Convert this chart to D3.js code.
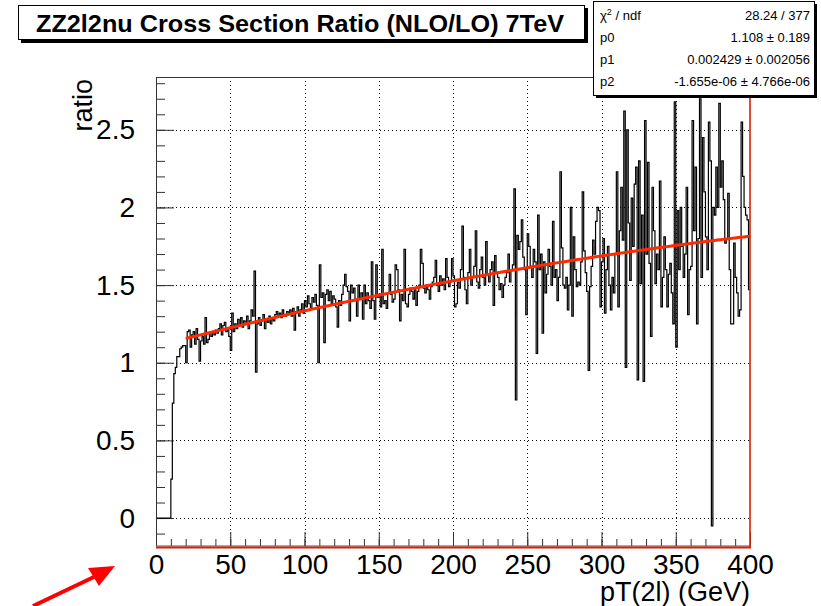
<!DOCTYPE html>
<html>
<head>
<meta charset="utf-8">
<script src="https://cdn.jsdelivr.net/npm/d3@7"></script>
<style>
  body { margin: 0; background: #fff; }
  text { font-family: "Liberation Sans", Arial, Helvetica, sans-serif; }
</style>
</head>
<body>
<svg id="svg" width="821" height="606"></svg>
<script>
// histogram contents, one value per 1 GeV bin, 0..400 GeV
var ratio = [
  0,0,0,0,0,0,0,0,0,0,
  0.25,0.74,0.93,0.97,1.04,1.04,1.09,1.10,1.11,1.11,
  1.00,1.20,1.21,1.10,1.18,1.20,1.12,1.22,1.15,1.01,
  1.14,1.17,1.12,1.29,1.13,1.15,1.19,1.17,1.20,1.18,
  1.21,1.19,1.22,1.25,1.18,1.24,1.26,1.20,1.22,1.17,
  1.08,1.32,1.20,1.25,1.22,1.28,1.24,1.29,1.23,1.27,
  1.25,1.30,1.22,1.27,1.34,1.30,1.59,0.94,1.25,1.29,
  1.24,1.27,1.31,1.22,1.28,1.26,1.30,1.25,1.28,1.27,
  1.31,1.33,1.30,1.32,1.29,1.34,1.31,1.30,1.33,1.32,
  1.34,1.30,1.35,1.21,1.33,1.36,1.30,1.34,1.38,1.32,
  1.40,1.36,1.43,1.38,1.35,1.42,1.39,1.44,1.37,1.00,
  1.63,1.42,1.45,1.13,1.44,1.47,1.40,1.46,1.38,1.43,
  1.41,1.36,1.23,1.40,1.37,1.44,1.50,1.57,1.49,1.46,
  1.27,1.50,1.45,1.48,1.40,1.30,1.50,1.42,1.45,1.28,
  1.50,1.38,1.45,1.40,1.35,1.65,1.40,1.28,1.63,1.42,
  1.44,1.36,1.73,1.38,1.40,1.35,1.45,1.57,1.44,1.39,
  1.41,1.63,1.60,1.47,1.27,1.44,1.40,1.73,1.38,1.36,
  1.44,1.48,1.46,1.41,1.47,1.37,1.46,1.50,1.73,1.64,
  1.48,1.45,1.50,1.47,1.41,1.49,1.52,1.55,1.66,1.50,
  1.46,1.56,1.50,1.54,1.47,1.67,1.55,1.49,1.52,1.67,
  1.56,1.36,1.38,1.52,1.48,1.60,1.88,1.55,1.47,1.38,
  1.58,1.73,1.50,1.55,1.62,1.85,1.52,1.48,1.60,1.68,
  1.55,1.50,1.78,1.57,1.52,1.60,1.65,1.37,1.69,1.58,
  1.55,1.47,1.51,1.42,1.50,1.55,1.58,1.70,1.52,1.60,
  1.63,2.12,0.76,1.82,1.73,1.78,1.92,1.68,1.60,1.31,
  1.83,1.75,1.62,1.55,1.73,1.65,1.06,1.95,1.60,1.70,
  1.19,1.65,1.45,1.57,1.73,1.62,1.50,1.91,1.55,1.60,
  1.40,1.55,2.23,1.74,1.50,1.48,1.55,1.34,1.50,2.00,
  1.30,1.81,1.60,1.49,1.52,1.50,1.65,2.10,1.72,1.58,
  1.46,0.95,1.49,1.62,1.79,1.70,1.91,2.00,1.98,1.36,
  1.65,1.80,1.32,1.60,1.75,1.50,1.34,1.55,1.45,1.70,
  2.23,1.36,1.85,2.13,1.79,2.62,0.97,2.50,1.90,1.53,
  2.06,1.75,2.15,2.26,0.89,2.30,1.51,1.95,0.88,2.56,
  1.70,2.29,1.64,1.17,2.13,1.85,1.51,1.70,1.60,2.17,
  1.36,1.55,1.81,1.60,1.36,1.57,1.64,1.45,1.25,2.68,
  1.10,1.98,1.60,2.00,1.75,1.55,1.70,2.13,1.31,1.60,
  1.62,2.56,1.85,2.26,1.25,1.80,2.70,1.55,2.45,2.10,
  1.81,1.60,2.55,2.30,-0.05,2.00,1.95,2.26,2.00,2.67,
  2.13,2.30,2.05,1.77,1.80,2.09,1.60,1.25,1.25,1.77,
  1.55,1.45,1.30,1.34,2.55,2.20,2.00,1.95,1.92,1.47
];
var binLow = 0, binHigh = 400;

// fit (pol2) parameters from the stats box
var p0 = 1.108, p1 = 0.002429, p2 = -1.655e-06;
var fitRange = [20, 400];

var xTicks = [0, 50, 100, 150, 200, 250, 300, 350, 400];
var yTicks = [0, 0.5, 1, 1.5, 2, 2.5];

var statLabels = ["ndf", "p0", "p1", "p2"];
var statValues = ["28.24 / 377", "1.108 \u00b1 0.189", "0.002429 \u00b1 0.002056", "-1.655e-06 \u00b1 4.766e-06"];

function drawChart(){
    var svg = d3.select("#svg");
    var left = 156, right = 750, topY = 77, bottom = 546;

    var x = d3.scaleLinear().domain([binLow, binHigh]).range([left, right]);
    var y = d3.scaleLinear().domain([-0.18, 2.84]).range([bottom, topY]);

    // grid
    var grid = svg.append("g").attr("stroke", "#000").attr("stroke-width", 1).attr("stroke-dasharray", "1,3");
    grid.selectAll(".gx").data(xTicks.slice(1, -1)).enter().append("line")
        .attr("x1", function(d){ return Math.round(x(d)) + 0.5; })
        .attr("x2", function(d){ return Math.round(x(d)) + 0.5; })
        .attr("y1", topY).attr("y2", bottom);
    grid.selectAll(".gy").data(yTicks).enter().append("line")
        .attr("y1", function(d){ return Math.round(y(d)) + 0.5; })
        .attr("y2", function(d){ return Math.round(y(d)) + 0.5; })
        .attr("x1", left).attr("x2", right);

    // axes (ticks inside the frame)
    var yMinor = svg.append("g").attr("transform", "translate(" + left + ",0)")
        .call(d3.axisLeft(y).tickValues(d3.range(-1, 29).map(function(d){ return d / 10; })).tickSizeInner(-9).tickSizeOuter(0).tickFormat(""));
    var yMajor = svg.append("g").attr("transform", "translate(" + left + ",0)")
        .call(d3.axisLeft(y).tickValues(yTicks).tickSizeInner(-18).tickSizeOuter(0).tickPadding(21).tickFormat(function(d){ return d; }));
    var xMinor = svg.append("g").attr("transform", "translate(0," + bottom + ")")
        .call(d3.axisBottom(x).tickValues(d3.range(0, 401, 10)).tickSizeInner(-7).tickSizeOuter(0).tickFormat(""));
    var xMajor = svg.append("g").attr("transform", "translate(0," + bottom + ")")
        .call(d3.axisBottom(x).tickValues(xTicks).tickSizeInner(-14).tickSizeOuter(0).tickPadding(8).tickFormat(function(d){ return d; }));

    [yMinor, yMajor, xMinor, xMajor].forEach(function(a){
        a.select(".domain").remove();
        a.selectAll("line").attr("stroke", "#333");
        a.selectAll("text").attr("font-size", "28px").attr("fill", "#000").style("font-family", "Liberation Sans, Arial, sans-serif");
    });

    // histogram outline
    var steps = ratio.map(function(v, i){ return [binLow + i, v]; });
    steps.push([binHigh, ratio[ratio.length - 1]]);
    svg.append("path")
       .datum(steps)
       .attr("fill", "none")
       .attr("stroke", "#000")
       .attr("stroke-width", 1.2)
       .attr("d", d3.line().curve(d3.curveStepAfter)
           .x(function(d){ return x(d[0]); })
           .y(function(d){ return y(d[1]); }));

    // fit function
    var fitPts = d3.range(fitRange[0], fitRange[1] + 1, 2).map(function(t){ return [t, p0 + p1 * t + p2 * t * t]; });
    svg.append("path")
       .datum(fitPts)
       .attr("fill", "none")
       .attr("stroke", "#ff2a00")
       .attr("stroke-width", 3)
       .attr("d", d3.line().x(function(d){ return x(d[0]); }).y(function(d){ return y(d[1]); }));

    // frame
    svg.append("line").attr("x1", left + 0.5).attr("x2", left + 0.5).attr("y1", topY).attr("y2", bottom).attr("stroke", "#333");
    svg.append("line").attr("x1", left).attr("x2", right).attr("y1", topY + 0.5).attr("y2", topY + 0.5).attr("stroke", "#333");
    svg.append("line").attr("x1", left).attr("x2", right + 1).attr("y1", bottom).attr("y2", bottom).attr("stroke", "#555").attr("stroke-width", 1);
    svg.append("line").attr("x1", left).attr("x2", right + 1).attr("y1", bottom + 1.5).attr("y2", bottom + 1.5).attr("stroke", "#d81e05").attr("stroke-width", 2);
    svg.append("line").attr("x1", right).attr("x2", right).attr("y1", topY).attr("y2", bottom + 2).attr("stroke", "#d81e05").attr("stroke-width", 1.6);

    // axis titles
    svg.append("text")
       .attr("transform", "translate(92," + (topY + 2) + ") rotate(-90)")
       .attr("text-anchor", "end")
       .attr("font-size", "27px")
       .text("ratio");
    svg.append("text")
       .attr("x", right).attr("y", 601)
       .attr("text-anchor", "end")
       .attr("font-size", "27px")
       .text("pT(2l) (GeV)");

    // title box
    svg.append("rect").attr("x", 21).attr("y", 8).attr("width", 567).attr("height", 35).attr("fill", "#000");
    svg.append("rect").attr("x", 18.5).attr("y", 5.5).attr("width", 566).attr("height", 34).attr("fill", "#fff").attr("stroke", "#000");
    svg.append("text")
       .attr("x", 300).attr("y", 32)
       .attr("text-anchor", "middle")
       .attr("font-size", "24px")
       .attr("font-weight", "bold")
       .attr("textLength", 528)
       .attr("lengthAdjust", "spacingAndGlyphs")
       .text("ZZ2l2nu Cross Section Ratio (NLO/LO) 7TeV");

    // stats box
    svg.append("rect").attr("x", 596).attr("y", 4).attr("width", 221).attr("height", 94).attr("fill", "#000");
    svg.append("rect").attr("x", 593.5).attr("y", 1.5).attr("width", 221).attr("height", 94).attr("fill", "#fff").attr("stroke", "#000");
    var rowY = [20, 42, 64, 86];
    statLabels.forEach(function(s, i){
        var t = svg.append("text").attr("x", 600).attr("y", rowY[i]).attr("font-size", "13px");
        if (i === 0) {
            t.append("tspan").text("\u03c7");
            t.append("tspan").attr("dy", -5).attr("font-size", "9px").text("2");
            t.append("tspan").attr("dy", 5).text(" / " + s);
        } else {
            t.text(s);
        }
        svg.append("text").attr("x", 810).attr("y", rowY[i]).attr("text-anchor", "end").attr("font-size", "13px").text(statValues[i]);
    });

    // red arrow bottom left
    svg.append("line").attr("x1", 33).attr("y1", 606).attr("x2", 96).attr("y2", 576)
       .attr("stroke", "#f00").attr("stroke-width", 4);
    svg.append("path").attr("d", "M115,566 L88,568 L99,586 Z").attr("fill", "#f00");
}
drawChart();
</script>
</body>
</html>
